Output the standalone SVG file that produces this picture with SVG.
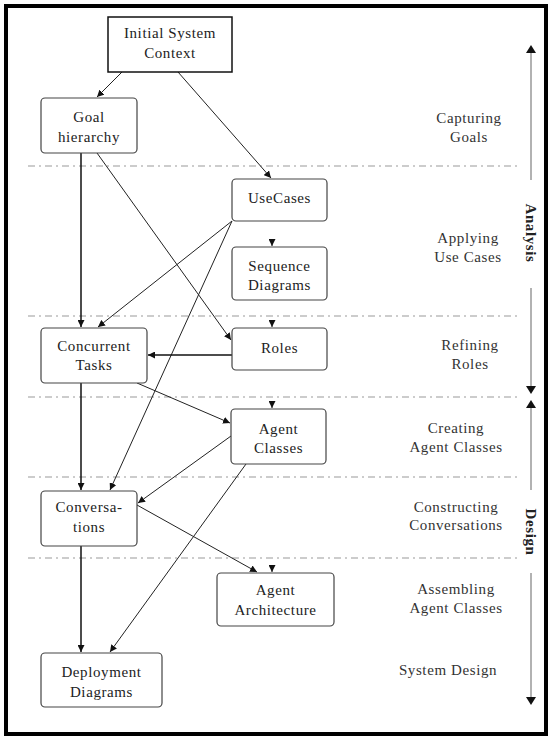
<svg xmlns="http://www.w3.org/2000/svg" width="552" height="740" viewBox="0 0 552 740">
<defs>
<marker id="ah" viewBox="0 0 10 10" refX="10" refY="5" markerWidth="7" markerHeight="7" orient="auto" markerUnits="userSpaceOnUse">
<path d="M0,0 L10,5 L0,10 z" fill="#111"/>
</marker>
</defs>
<style>
.box{fill:#fff;stroke:#444;stroke-width:1.2}
.t{font-family:"Liberation Serif","Times New Roman",serif;font-size:15px;fill:#222;text-anchor:middle;letter-spacing:0.6px}
.p{font-family:"Liberation Serif","Times New Roman",serif;font-size:15px;fill:#333;text-anchor:middle;letter-spacing:0.6px}
.v{font-family:"Liberation Serif","Times New Roman",serif;font-size:15px;font-weight:bold;fill:#222;text-anchor:middle;letter-spacing:0.6px}
.sep{stroke:#999;stroke-width:1;stroke-dasharray:7,4,2,4;fill:none}
.c{stroke:#222;stroke-width:1;fill:none;marker-end:url(#ah)}
.cs{stroke:#111;stroke-width:1.5;fill:none;marker-end:url(#ah)}
.ph{stroke:#999;stroke-width:1.5;fill:none}
</style>
<rect x="6" y="6" width="540" height="728" fill="#fff" stroke="#000" stroke-width="4"/>

<g id="separators">
<line class="sep" x1="28" y1="166" x2="517" y2="166"/>
<line class="sep" x1="28" y1="316" x2="517" y2="316"/>
<line class="sep" x1="28" y1="397" x2="517" y2="397"/>
<line class="sep" x1="28" y1="477" x2="517" y2="477"/>
<line class="sep" x1="28" y1="558" x2="517" y2="558"/>
</g>

<g id="phases">
<text class="p" x="469" y="123">Capturing</text>
<text class="p" x="469" y="142">Goals</text>
<text class="p" x="468" y="243">Applying</text>
<text class="p" x="468" y="262">Use Cases</text>
<text class="p" x="470" y="350">Refining</text>
<text class="p" x="470" y="369">Roles</text>
<text class="p" x="456" y="433">Creating</text>
<text class="p" x="456" y="452">Agent Classes</text>
<text class="p" x="456" y="512">Constructing</text>
<text class="p" x="456" y="530">Conversations</text>
<text class="p" x="456" y="594">Assembling</text>
<text class="p" x="456" y="613">Agent Classes</text>
<text class="p" x="448" y="675">System Design</text>
</g>

<g id="scale">
<line class="ph" x1="531" y1="52" x2="531" y2="180"/>
<path d="M526,53 L531,45 L536,53 z" fill="#111"/>
<text class="v" transform="translate(526,233) rotate(90)">Analysis</text>
<line class="ph" x1="531" y1="288" x2="531" y2="386"/>
<path d="M526,386 L531,394 L536,386 z" fill="#111"/>
<path d="M526,408 L531,400 L536,408 z" fill="#111"/>
<line class="ph" x1="531" y1="408" x2="531" y2="490"/>
<text class="v" transform="translate(526,532) rotate(90)">Design</text>
<line class="ph" x1="531" y1="573" x2="531" y2="697"/>
<path d="M526,697 L531,705 L536,697 z" fill="#111"/>
</g>

<g id="connectors">
<line class="c" x1="122" y1="72" x2="97" y2="97"/>
<line class="c" x1="178" y1="72" x2="271" y2="178"/>
<line class="cs" x1="81" y1="153" x2="81" y2="327"/>
<line class="c" x1="97" y1="153" x2="231" y2="340"/>
<line class="c" x1="232" y1="221" x2="98" y2="327"/>
<line class="c" x1="232" y1="221" x2="110" y2="490"/>
<line class="c" x1="272" y1="240" x2="272" y2="246"/>
<line class="c" x1="272" y1="321" x2="272" y2="327"/>
<line class="cs" x1="232" y1="355" x2="148" y2="355"/>
<line class="c" x1="137" y1="383" x2="230" y2="423"/>
<line class="cs" x1="81" y1="383" x2="81" y2="490"/>
<line class="c" x1="272" y1="402" x2="272" y2="408"/>
<line class="c" x1="231" y1="436" x2="138" y2="503"/>
<line class="c" x1="246" y1="464" x2="110" y2="652"/>
<line class="c" x1="137" y1="505" x2="257" y2="572"/>
<line class="c" x1="272" y1="566" x2="272" y2="572"/>
<line class="cs" x1="81" y1="546" x2="81" y2="652"/>
</g>

<g id="initial-system-context">
<rect x="108" y="17" width="124" height="55" fill="#fff" stroke="#111" stroke-width="1.5"/>
<text class="t" x="170" y="38">Initial System</text>
<text class="t" x="170" y="58">Context</text>
</g>
<g id="goal-hierarchy">
<rect class="box" x="41" y="98" width="96" height="55" rx="4"/>
<text class="t" x="89" y="122">Goal</text>
<text class="t" x="89" y="142">hierarchy</text>
</g>
<g id="use-cases">
<rect class="box" x="232" y="179" width="95" height="42" rx="4"/>
<text class="t" x="279.5" y="203">UseCases</text>
</g>
<g id="sequence-diagrams">
<rect class="box" x="232" y="247" width="95" height="53" rx="4"/>
<text class="t" x="279.5" y="271">Sequence</text>
<text class="t" x="279.5" y="290">Diagrams</text>
</g>
<g id="roles">
<rect class="box" x="232" y="328" width="95" height="42" rx="4"/>
<text class="t" x="279.5" y="353">Roles</text>
</g>
<g id="concurrent-tasks">
<rect class="box" x="41" y="328" width="106" height="55" rx="4"/>
<text class="t" x="94" y="351">Concurrent</text>
<text class="t" x="94" y="370">Tasks</text>
</g>
<g id="agent-classes">
<rect class="box" x="231" y="409" width="95" height="55" rx="4"/>
<text class="t" x="278.5" y="434">Agent</text>
<text class="t" x="278.5" y="453">Classes</text>
</g>
<g id="conversations">
<rect class="box" x="41" y="491" width="96" height="55" rx="4"/>
<text class="t" x="89" y="512">Conversa-</text>
<text class="t" x="89" y="532">tions</text>
</g>
<g id="agent-architecture">
<rect class="box" x="217" y="573" width="117" height="53" rx="4"/>
<text class="t" x="275.5" y="595">Agent</text>
<text class="t" x="275.5" y="615">Architecture</text>
</g>
<g id="deployment-diagrams">
<rect class="box" x="41" y="653" width="121" height="54" rx="4"/>
<text class="t" x="101.5" y="677">Deployment</text>
<text class="t" x="101.5" y="697">Diagrams</text>
</g>
</svg>
